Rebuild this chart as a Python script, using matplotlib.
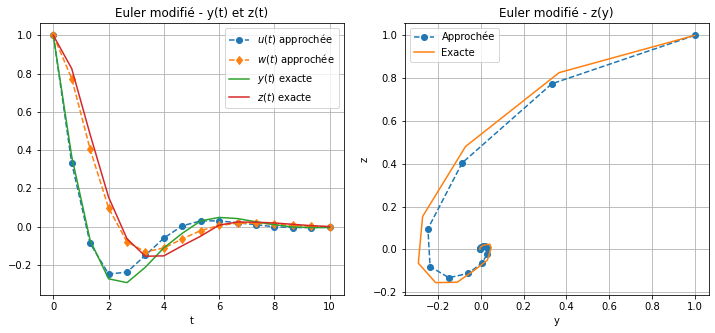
import matplotlib
matplotlib.use("Agg")
import matplotlib.pyplot as plt

# Time grid (step h = 2/3)
t = [0.0, 2/3, 4/3, 2.0, 8/3, 10/3, 4.0, 14/3, 16/3, 6.0, 20/3, 22/3, 8.0, 26/3, 28/3, 10.0]

# Modified Euler approximations
u = [1.0, 0.332, -0.088, -0.248, -0.238, -0.150, -0.060, 0.004,
     0.030, 0.030, 0.020, 0.010, -0.001, -0.005, -0.005, -0.003]
w = [1.0, 0.774, 0.404, 0.097, -0.080, -0.132, -0.112, -0.064,
     -0.021, 0.006, 0.017, 0.018, 0.013, 0.006, 0.001, 0.0]

# Exact solution sampled on the same grid
y_ex = [1.0, 0.366, -0.072, -0.273, -0.293, -0.212, -0.111, -0.035,
        0.030, 0.048, 0.042, 0.025, 0.010, -0.002, -0.005, -0.005]
z_ex = [1.0, 0.826, 0.481, 0.154, -0.064, -0.155, -0.153, -0.100,
        -0.050, 0.008, 0.024, 0.023, 0.019, 0.012, 0.005, 0.0]

W, H, DPI = 715, 333, 72
fig = plt.figure(figsize=(W / DPI, H / DPI), dpi=DPI)
ax1 = fig.add_axes([39.5 / W, 38 / H, 304 / W, 272 / H])
ax2 = fig.add_axes([404.5 / W, 38 / H, 304 / W, 272 / H])

ax1.plot(t, u, 'o--', color='C0', label=r'$u(t)$ approchée')
ax1.plot(t, w, 'd--', color='C1', label=r'$w(t)$ approchée')
ax1.plot(t, y_ex, '-', color='C2', label=r'$y(t)$ exacte')
ax1.plot(t, z_ex, '-', color='C3', label=r'$z(t)$ exacte')
ax1.set_title('Euler modifié - y(t) et z(t)')
ax1.set_xlabel('t')
ax1.legend(loc='upper right')
ax1.grid(True)

ax2.plot(u, w, 'o--', color='C0', label='Approchée')
ax2.plot(y_ex, z_ex, '-', color='C1', label='Exacte')
ax2.set_title('Euler modifié - z(y)')
ax2.set_xlabel('y')
ax2.set_ylabel('z')
ax2.legend(loc='upper left')
ax2.grid(True)

fig.savefig('out.png', dpi=DPI)
